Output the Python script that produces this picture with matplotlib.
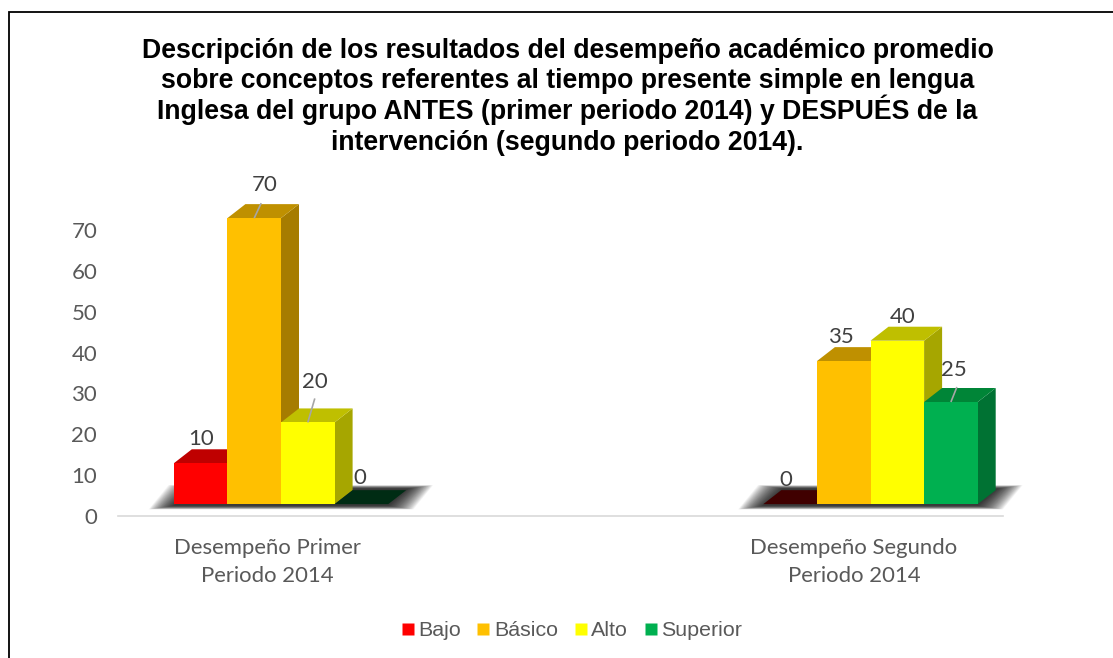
import matplotlib
matplotlib.use("Agg")
import matplotlib.pyplot as plt
from matplotlib.patches import Polygon, Rectangle
from matplotlib.lines import Line2D

# data
groups = ["Desempeño Primer\nPeriodo 2014", "Desempeño Segundo\nPeriodo 2014"]
levels = ["Bajo", "Básico", "Alto", "Superior"]
primer = [10, 70, 20, 0]
segundo = [0, 35, 40, 25]
yticks = [0, 10, 20, 30, 40, 50, 60, 70]
title_lines = ["Descripción de los resultados del desempeño académico promedio",
               "sobre conceptos referentes al tiempo presente simple en lengua",
               "Inglesa del grupo ANTES (primer periodo 2014) y DESPUÉS de la",
               "intervención (segundo periodo 2014)."]

front = ["#FF0000", "#FFC000", "#FFFF00", "#00B050"]
top = ["#BF0000", "#BF9000", "#BFBF00", "#008537"]
side = ["#A60000", "#A67C00", "#A6A600", "#007233"]
zero_top = ["#400000", "#403000", "#404000", "#002C14"]

W, H = 1113, 658
plt.rcParams["font.family"] = ["Lato", "DejaVu Sans"]
fig = plt.figure(figsize=(W / 100, H / 100), dpi=100, facecolor="white")

# marco negro: solo arriba y a la izquierda, el resto queda fuera del recorte
fig.add_artist(Line2D([8.5 / W, 8.5 / W, 1], [0, 1 - 12 / H, 1 - 12 / H], transform=fig.transFigure,
                      color="black", linewidth=1.3, solid_joinstyle="miter"))

ax_l, ax_r, ax_b, ax_t = 118, 1003, H - 516, H - 190
ax = fig.add_axes([ax_l / W, ax_b / H, (ax_r - ax_l) / W, (ax_t - ax_b) / H])
px_y = 40.86 / 10
ax.set_ylim(0, (ax_t - ax_b) / px_y)
px_x = 589.5
ax.set_xlim((118 - 281) / px_x, (1003 - 281) / px_x)
ax.patch.set_alpha(0)

bar_w = 53.6 / px_x
dx = 18 / px_x
dy = 14 / px_y
floor = 2.9


def shadow(x0, x1):
    # sombra difusa sobre el piso
    for grow in range(36, -1, -1):
        gx = grow * 0.7 / px_x
        gy = grow * 0.1 / px_y
        pts = [(x0 - gx, floor - 0.4 - gy), (x1 + gx, floor - 0.4 - gy),
               (x1 + dx * 1.1 + gx, floor + dy * 1.1 + gy), (x0 + dx * 1.1 - gx, floor + dy * 1.1 + gy)]
        ax.add_patch(Polygon(pts, closed=True, facecolor="black", edgecolor="none", alpha=0.035, zorder=1,
                             clip_on=False))


def bars(center, values):
    x_left = center - 2 * bar_w
    shadow(x_left, x_left + 4 * bar_w)
    # de izquierda a derecha, cada barra tapa la cara lateral de la anterior
    for i in range(4):
        v = values[i]
        x0 = x_left + i * bar_w
        x1 = x0 + bar_w
        y1 = floor + v
        z = 3 + i * 0.1
        if v == 0:
            ax.add_patch(Polygon([(x0, floor), (x1, floor), (x1 + dx, floor + dy), (x0 + dx, floor + dy)],
                                 facecolor=zero_top[i], edgecolor="none", zorder=z))
            continue
        ax.add_patch(Polygon([(x1, floor), (x1 + dx, floor + dy), (x1 + dx, y1 + dy), (x1, y1)],
                             facecolor=side[i], edgecolor="none", zorder=z, clip_on=False))
        ax.add_patch(Polygon([(x0, y1), (x1, y1), (x1 + dx, y1 + dy), (x0 + dx, y1 + dy)],
                             facecolor=top[i], edgecolor="none", zorder=z, clip_on=False))
        ax.add_patch(Rectangle((x0, floor), bar_w, v, facecolor=front[i], edgecolor="none", zorder=z))


bars(0, primer)
bars(1, segundo)


def etiqueta(g, i, v, off_x, off_y, leader=None):
    # off_x / off_y en pixeles, desde el centro de la cara frontal superior
    cx = g + (i - 1.5) * bar_w
    cy = floor + v
    ax.text(cx + off_x / px_x, cy + off_y / px_y, str(v), ha="center", va="center",
            fontsize=16, color="#404040", zorder=10)
    if leader:
        ax.plot([cx, cx + leader[0] / px_x], [cy, cy + leader[1] / px_y], color="#A6A6A6", lw=1.2,
                zorder=9, solid_capstyle="butt")


etiqueta(0, 0, primer[0], 0, 24)
etiqueta(0, 1, primer[1], 10, 33, (7, 15))
etiqueta(0, 2, primer[2], 7, 40, (7, 24))
etiqueta(0, 3, primer[3], -2, 26)
etiqueta(1, 0, segundo[0], -4, 24)
etiqueta(1, 1, segundo[1], -3, 24)
etiqueta(1, 2, segundo[2], 5, 24)
etiqueta(1, 3, segundo[3], 3, 32, (6, 15))

for s in ["top", "right", "left"]:
    ax.spines[s].set_visible(False)
ax.spines["bottom"].set_color("#D9D9D9")
ax.spines["bottom"].set_linewidth(1.2)
ax.set_yticks(yticks)
ax.tick_params(axis="y", length=0, labelsize=16, labelcolor="#595959", pad=15)
ax.set_xticks([0 - 14 / px_x, 1 - 16.5 / px_x])
ax.set_xticklabels(groups, fontsize=15.9, color="#595959", linespacing=1.5)
ax.tick_params(axis="x", length=0, pad=16)

# una linea de texto por vez, para que el interlineado no dependa de los acentos
for n, line in enumerate(title_lines):
    fig.text(567.5 / W, 1 - (58 + n * 30.5) / H, line, ha="center", va="baseline", fontsize=19.2, fontweight="bold",
             family=["Liberation Sans"], color="black")

handles = [Line2D([], [], marker="s", linestyle="none", markersize=8.2, markerfacecolor=c, markeredgecolor="none")
           for c in front]
fig.legend(handles, levels, loc="center", bbox_to_anchor=(569.5 / W, 1 - 631 / H), ncol=4, frameon=False,
           prop={"family": ["Liberation Sans"], "size": 15.4}, labelcolor="#595959",
           handletextpad=0, columnspacing=0.55, handlelength=1.0)

fig.savefig("out.png", dpi=100)
